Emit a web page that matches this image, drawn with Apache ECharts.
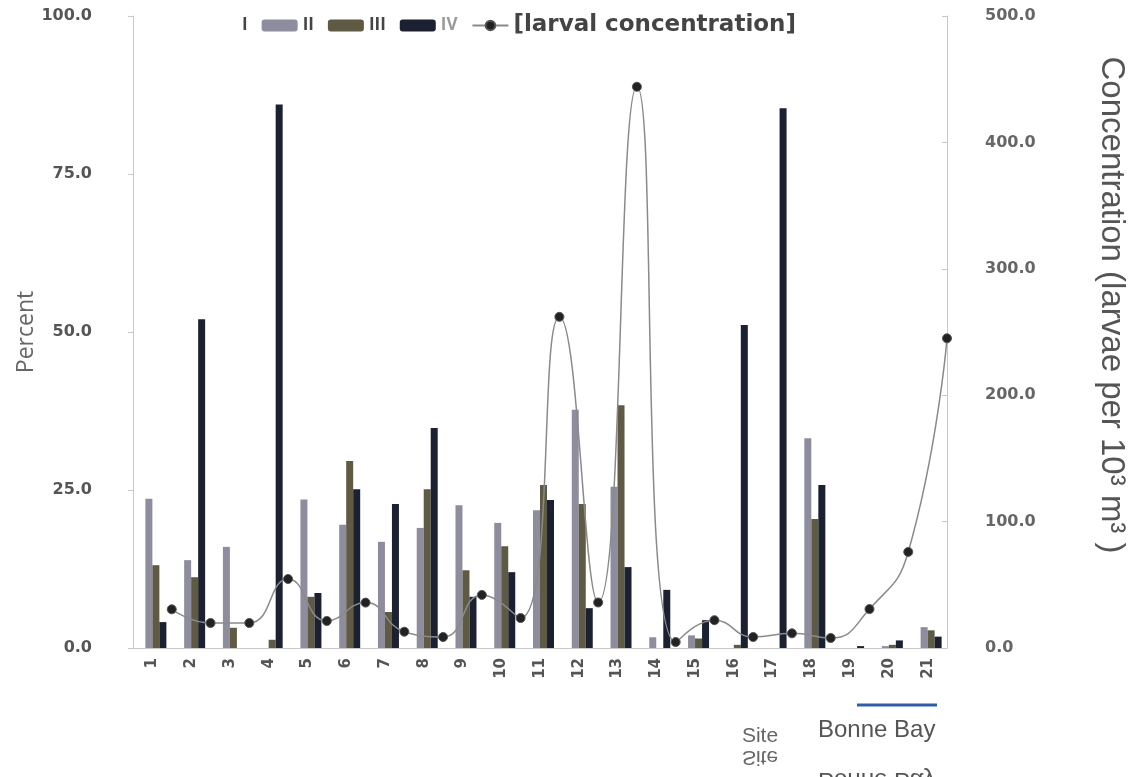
<!DOCTYPE html>
<html>
<head>
<meta charset="utf-8">
<script src="https://cdn.jsdelivr.net/npm/echarts@6/dist/echarts.min.js"></script>
<style>html,body{margin:0;padding:0;background:#fff;}#c{width:1140px;height:777px;}</style>
</head>
<body>
<div id="c"></div>
<script>
var sites = ['1','2','3','4','5','6','7','8','9','10','11','12','13','14','15','16','17','18','19','20','21'];
var stageI   = [0,0,0,0,0,0,0,0,0,0,0,0,0,0,0,0,0,0,0,0,0];
var stageII  = [23.6,13.9,16.0,0,23.5,19.5,16.8,19.0,22.6,19.8,21.8,37.7,25.5,1.7,2.0,0,0,33.2,0,0.3,3.3];
var stageIII = [13.1,11.2,3.2,1.3,8.1,29.6,5.7,25.1,12.3,16.1,25.8,22.8,38.4,0,1.5,0.5,0,20.4,0,0.5,2.8];
var stageIV  = [4.1,52.0,0,86.0,8.7,25.1,22.8,34.8,8.1,12.0,23.4,6.3,12.8,9.2,4.4,51.1,85.4,25.8,0.3,1.2,1.8];
var concentration = [30.6,19.8,19.8,54.6,21.4,35.9,12.9,8.7,42.0,23.7,262,36.0,444,4.7,22.0,8.7,11.6,7.9,30.8,76.0,245];
var percentTicks = [0,25,50,75,100];
var concTicks = [0,100,200,300,400,500];

var lineData = concentration.map(function(v,i){ return [i+1, v]; });
var font = '"Open Sans", "DejaVu Sans", sans-serif';
var tickFont = '"DejaVu Sans", sans-serif';
var arial = '"Liberation Sans", Arial, sans-serif';
var chart = echarts.init(document.getElementById('c'), null, {renderer:'canvas'});
var barCommon = {type:'bar', xAxisIndex:0, yAxisIndex:0, barWidth:7, barGap:'0%'};
chart.setOption({
  animation:false,
  backgroundColor:'#ffffff',
  legend:{
    top:9, left:196, itemWidth:36, itemHeight:12, itemGap:14,
    textStyle:{fontFamily:font, fontWeight:'bold', fontSize:17, color:'#444'},
    data:[
      {name:'I'},
      {name:'II'},
      {name:'III'},
      {name:'IV', textStyle:{color:'#9a9a9a'}},
      {name:'[larval concentration]', textStyle:{fontFamily:tickFont, fontSize:23, color:'#444'}}
    ]
  },
  grid:{left:133, right:193, top:16, bottom:129},
  xAxis:[
    {type:'category', data:sites, boundaryGap:true,
     axisLine:{lineStyle:{color:'#c8c8c8'}}, axisTick:{show:false},
     axisLabel:{interval:0, rotate:90, margin:10, fontFamily:tickFont, fontWeight:'bold', fontSize:15, color:'#555'},
     splitLine:{show:false}},
    {type:'value', min:0, max:21, show:false}
  ],
  yAxis:[
    {type:'value', min:percentTicks[0], max:percentTicks[percentTicks.length-1], interval:25,
     name:'Percent', nameLocation:'middle', nameGap:95, nameMoveOverlap:false,
     nameTextStyle:{fontFamily:font, fontSize:23, color:'#666'},
     axisLine:{show:true, lineStyle:{color:'#c8c8c8'}},
     axisTick:{show:true, length:5, lineStyle:{color:'#c8c8c8'}},
     axisLabel:{margin:41, fontFamily:tickFont, fontWeight:'bold', fontSize:16, color:'#555', formatter:function(v){return v.toFixed(1);}},
     splitLine:{show:false}},
    {type:'value', min:concTicks[0], max:concTicks[concTicks.length-1], interval:100, position:'right',
     axisLine:{show:true, lineStyle:{color:'#c8c8c8'}},
     axisTick:{show:true, inside:true, length:5, lineStyle:{color:'#c8c8c8'}},
     axisLabel:{margin:38, fontFamily:tickFont, fontWeight:'bold', fontSize:16, color:'#666', formatter:function(v){return v.toFixed(1);}},
     splitLine:{show:false}}
  ],
  series:[
    Object.assign({name:'I', data:stageI, itemStyle:{color:'#ffffff'}}, barCommon),
    Object.assign({name:'II', data:stageII, itemStyle:{color:'#8d8d9e'}}, barCommon),
    Object.assign({name:'III', data:stageIII, itemStyle:{color:'#5e5a44'}}, barCommon),
    Object.assign({name:'IV', data:stageIV, itemStyle:{color:'#1b2130'}}, barCommon),
    {name:'[larval concentration]', type:'line', xAxisIndex:1, yAxisIndex:1, data:lineData,
     smooth:0.5, symbol:'circle', symbolSize:9, z:10,
     lineStyle:{color:'#8a8a8a', width:1.5},
     itemStyle:{color:'#222', borderColor:'#555', borderWidth:1}}
  ],
  graphic:[
    {type:'text', x:1111, y:305, rotation:-Math.PI/2,
     style:{text:'Concentration (larvae per 10³ m³ )', fontFamily:arial, fontSize:33, fill:'#555', textAlign:'center', textVerticalAlign:'middle'}},
    {type:'line', shape:{x1:857,y1:705,x2:937,y2:705}, style:{stroke:'#2f5ea8', lineWidth:3}},
    {type:'text', x:818, y:718, style:{text:'Bonne Bay', fontFamily:arial, fontSize:24, fill:'#555', textVerticalAlign:'top'}},
    {type:'text', x:818, y:792, scaleY:-1, style:{text:'Bonne Bay', fontFamily:arial, fontSize:24, fill:'#555', textVerticalAlign:'top'}},
    {type:'text', x:760, y:726, style:{text:'Site', fontFamily:arial, fontSize:21, fill:'#666', textAlign:'center', textVerticalAlign:'top'}},
    {type:'text', x:760, y:767, scaleY:-1, style:{text:'Site', fontFamily:arial, fontSize:21, fill:'#666', textAlign:'center', textVerticalAlign:'top'}}
  ]
});
</script>
</body>
</html>
